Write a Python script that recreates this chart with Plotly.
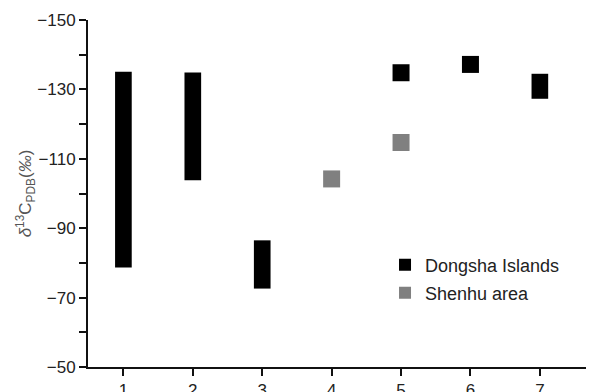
import plotly.graph_objects as go

# Range bars (min/max) for Dongsha Islands
dong_bar_x = [1, 2, 3, 7]
dong_bar_low = [-78.7, -103.8, -72.6, -127.3]
dong_bar_high = [-135.1, -134.9, -86.5, -134.5]

# Single values for Dongsha Islands
dong_pt_x = [5, 6]
dong_pt_y = [-134.8, -137.2]

# Single values for Shenhu area
shenhu_x = [4, 5]
shenhu_y = [-104.2, -114.7]

y_ticks = [-150, -130, -110, -90, -70, -50]
x_ticks = [1, 2, 3, 4, 5, 6, 7]

BLACK = "#000000"
GRAY = "#808080"

fig = go.Figure()

fig.add_trace(go.Bar(
    x=dong_bar_x,
    y=[h - l for h, l in zip(dong_bar_high, dong_bar_low)],
    base=dong_bar_low,
    width=0.24,
    marker=dict(color=BLACK, line=dict(width=0)),
    showlegend=False,
    name="Dongsha Islands",
))
fig.add_trace(go.Scatter(
    x=dong_pt_x, y=dong_pt_y, mode="markers",
    marker=dict(symbol="square", size=17, color=BLACK, line=dict(width=0)),
    name="Dongsha Islands", showlegend=False,
))
fig.add_trace(go.Scatter(
    x=shenhu_x, y=shenhu_y, mode="markers",
    marker=dict(symbol="square", size=17, color=GRAY, line=dict(width=0)),
    name="Shenhu area", showlegend=False,
))

# legend entries
fig.add_trace(go.Scatter(
    x=[None], y=[None], mode="markers",
    marker=dict(symbol="square", size=12, color=BLACK, line=dict(width=0)),
    name="Dongsha Islands", legend="legend",
))
fig.add_trace(go.Scatter(
    x=[None], y=[None], mode="markers",
    marker=dict(symbol="square", size=12, color=GRAY, line=dict(width=0)),
    name="Shenhu area", legend="legend2",
))

leg_common = dict(xanchor="left", yanchor="middle",
                  font=dict(size=18, color="#222222"),
                  bgcolor="rgba(0,0,0,0)")

fig.update_layout(
    width=594, height=392,
    margin=dict(l=80, r=8, t=12, b=33),
    paper_bgcolor="white", plot_bgcolor="white",
    font=dict(family="Liberation Sans, Arial, sans-serif", size=17, color="#222222"),
    legend=dict(x=0.587, y=0.294, **leg_common),
    legend2=dict(x=0.587, y=0.213, **leg_common),
    xaxis=dict(
        range=[0.49, 7.78], tickvals=x_ticks,
        showgrid=False, zeroline=False, automargin=False,
        showline=True, linecolor="#111111", linewidth=2,
        ticks="outside", ticklen=7, tickwidth=2, tickcolor="#111111",
        tickfont=dict(size=17),
    ),
    yaxis=dict(
        range=[-50, -150], tickvals=y_ticks,
        showgrid=False, zeroline=False, automargin=False,
        showline=True, linecolor="#111111", linewidth=2,
        ticks="outside", ticklen=7, tickwidth=2, tickcolor="#111111",
        tickfont=dict(size=17),
        minor=dict(dtick=10, ticks="outside", ticklen=7, tickwidth=2, tickcolor="#111111", showgrid=False),
        title=dict(
            text="<i>δ</i><sup>13</sup>C<sub>PDB</sub>(<i>‰</i>)",
            font=dict(size=17, color="#555555"),
            standoff=1,
        ),
    ),
)

fig.write_html("out.html")
